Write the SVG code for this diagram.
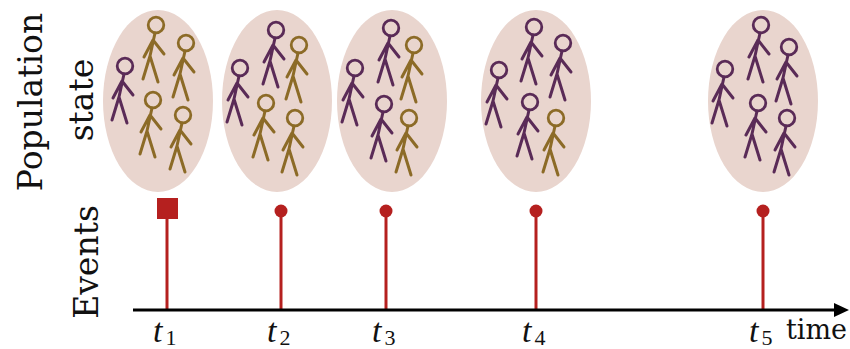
<svg xmlns="http://www.w3.org/2000/svg" xmlns:xlink="http://www.w3.org/1999/xlink" width="850" height="349" viewBox="0 0 850 349">
  <style>
    .pop{fill:#e9d5ce}
    .pu{stroke:#5a2b57}
    .au{stroke:#8c6b27}
    .stem{stroke:#b5201f;stroke-width:3}
    .dot{fill:#b5201f}
    .lbl{font-family:"DejaVu Serif",serif;font-size:33px;fill:#111}
    .tt{font-family:"Liberation Serif",serif;font-style:italic;font-size:34px;fill:#111}
    .ts{font-family:"Liberation Serif",serif;font-size:22px;fill:#111}
    .tm{font-family:"DejaVu Serif",serif;font-size:27px;fill:#111}
  </style>
  <defs>
    <!-- stick person, head centred on the origin -->
    <g id="fig" fill="none" stroke-width="3" stroke-linecap="round" stroke-linejoin="round">
      <circle cx="0" cy="0" r="7.8" stroke-width="2.8"/>
      <path d="M-1,8 L-6,31 M-3,15 L-12,32 M-3,15 L8,29 M-6,31 L-13,54 M-6,31 L2,57"/>
    </g>
  </defs>

  <!-- axis titles -->
  <g id="axis-titles">
    <text class="lbl" transform="translate(42,102) rotate(-90)" text-anchor="middle">Population</text>
    <text class="lbl" transform="translate(93,100) rotate(-90)" text-anchor="middle">state</text>
    <text class="lbl" transform="translate(98,262) rotate(-90)" text-anchor="middle">Events</text>
  </g>

  <!-- population at each event time -->
  <g id="state-1" transform="translate(158,101)">
    <ellipse class="pop" cx="0" cy="0" rx="55" ry="91"/>
    <use href="#fig" class="pu" x="-33" y="-35"/>
    <use href="#fig" class="au" x="-2" y="-76"/>
    <use href="#fig" class="au" x="28" y="-58"/>
    <use href="#fig" class="au" x="-5" y="-1"/>
    <use href="#fig" class="au" x="25" y="14"/>
  </g>
  <g id="state-2" transform="translate(277,101)">
    <ellipse class="pop" cx="0" cy="0" rx="55" ry="91"/>
    <use href="#fig" class="pu" x="-37" y="-33"/>
    <use href="#fig" class="pu" x="-1" y="-71"/>
    <use href="#fig" class="au" x="22" y="-56"/>
    <use href="#fig" class="au" x="-11" y="2"/>
    <use href="#fig" class="au" x="18" y="17"/>
  </g>
  <g id="state-3" transform="translate(392,101)">
    <ellipse class="pop" cx="0" cy="0" rx="55" ry="91"/>
    <use href="#fig" class="pu" x="-37" y="-33"/>
    <use href="#fig" class="pu" x="-1" y="-73"/>
    <use href="#fig" class="au" x="22" y="-56"/>
    <use href="#fig" class="pu" x="-8" y="3"/>
    <use href="#fig" class="au" x="17" y="17"/>
  </g>
  <g id="state-4" transform="translate(536,101)">
    <ellipse class="pop" cx="0" cy="0" rx="55" ry="91"/>
    <use href="#fig" class="pu" x="-37" y="-31"/>
    <use href="#fig" class="pu" x="-2" y="-74"/>
    <use href="#fig" class="pu" x="27" y="-58"/>
    <use href="#fig" class="pu" x="-6" y="1"/>
    <use href="#fig" class="au" x="20" y="17"/>
  </g>
  <g id="state-5" transform="translate(763,101)">
    <ellipse class="pop" cx="0" cy="0" rx="55" ry="91"/>
    <use href="#fig" class="pu" x="-38" y="-32"/>
    <use href="#fig" class="pu" x="-2" y="-76"/>
    <use href="#fig" class="pu" x="26" y="-54"/>
    <use href="#fig" class="pu" x="-5" y="2"/>
    <use href="#fig" class="pu" x="24" y="17"/>
  </g>

  <!-- events -->
  <g id="event-1">
    <line class="stem" x1="167" y1="215" x2="167" y2="310"/>
    <rect class="dot" x="157" y="198" width="21" height="21"/>
  </g>
  <g id="event-2">
    <line class="stem" x1="281" y1="211" x2="281" y2="310"/>
    <circle class="dot" cx="281" cy="211" r="6.5"/>
  </g>
  <g id="event-3">
    <line class="stem" x1="386" y1="211" x2="386" y2="310"/>
    <circle class="dot" cx="386" cy="211" r="6.5"/>
  </g>
  <g id="event-4">
    <line class="stem" x1="536" y1="211" x2="536" y2="310"/>
    <circle class="dot" cx="536" cy="211" r="6.5"/>
  </g>
  <g id="event-5">
    <line class="stem" x1="763" y1="211" x2="763" y2="310"/>
    <circle class="dot" cx="763" cy="211" r="6.5"/>
  </g>

  <!-- time axis -->
  <g id="connectors">
    <line x1="133" y1="310" x2="835" y2="310" stroke="#000" stroke-width="3"/>
    <path d="M834,303 L849,310 L834,317 Z" fill="#000"/>
  </g>

  <!-- tick labels -->
  <g id="ticks">
    <text class="tt" x="153" y="342">t<tspan class="ts" dx="3" dy="3" font-style="normal">1</tspan></text>
    <text class="tt" x="267" y="342">t<tspan class="ts" dx="3" dy="3" font-style="normal">2</tspan></text>
    <text class="tt" x="372" y="342">t<tspan class="ts" dx="3" dy="3" font-style="normal">3</tspan></text>
    <text class="tt" x="522" y="342">t<tspan class="ts" dx="3" dy="3" font-style="normal">4</tspan></text>
    <text class="tt" x="749" y="342">t<tspan class="ts" dx="3" dy="3" font-style="normal">5</tspan></text>
    <text class="tm" x="786" y="339">time</text>
  </g>
</svg>
